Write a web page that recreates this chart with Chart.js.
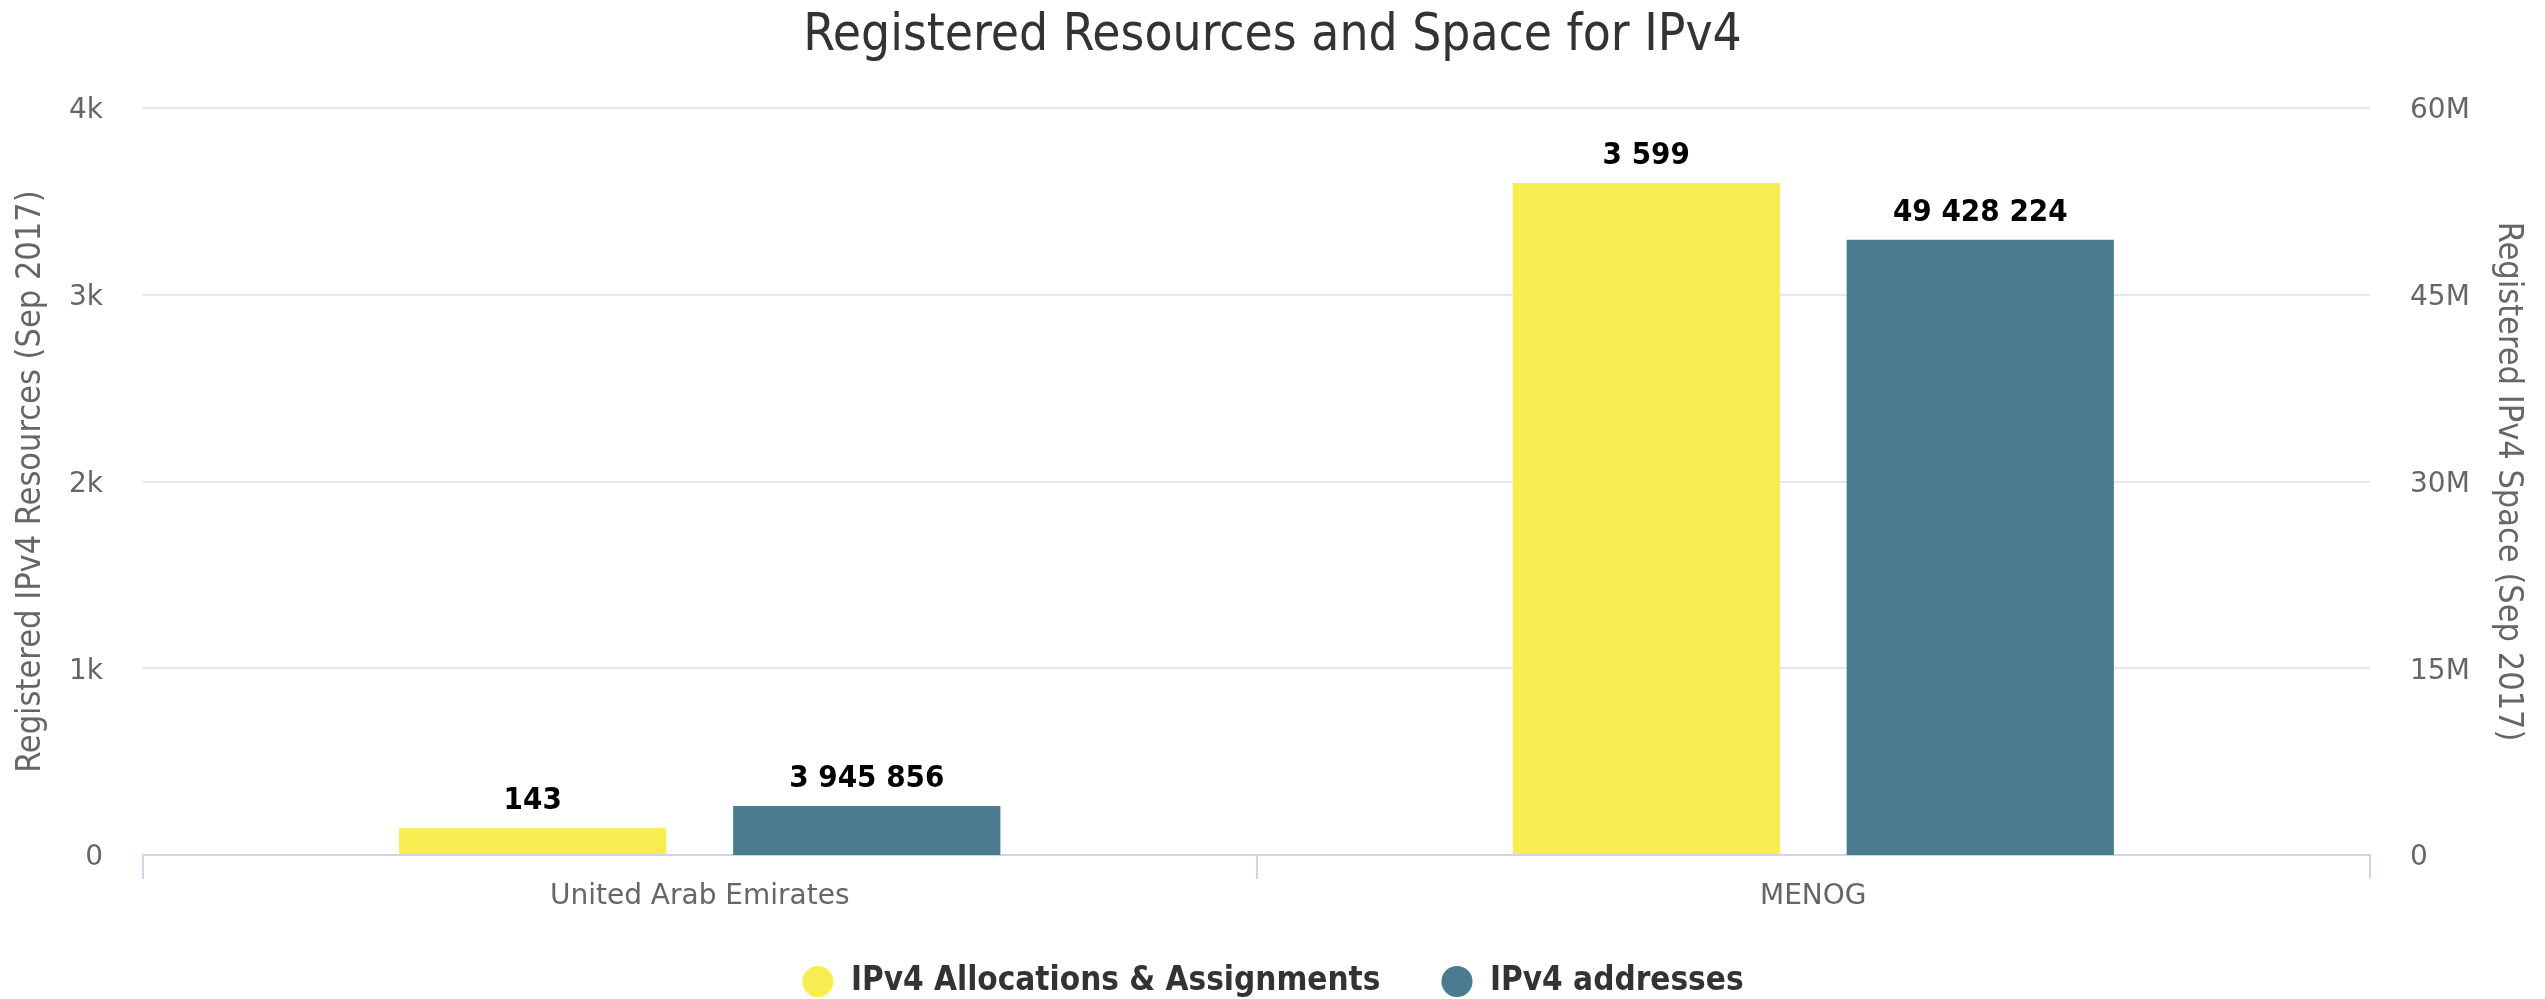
<!DOCTYPE html>
<html>
<head>
<meta charset="utf-8">
<title>Registered Resources and Space for IPv4</title>
<script src="https://cdn.jsdelivr.net/npm/chart.js@4"></script>
<style>
    body { margin: 0; background: #fff; }
    .chart-box { width: 2545px; height: 999px; }
</style>
</head>
<body>
<div class="chart-box"><canvas id="ipv4Chart"></canvas></div>
<script>
const categories = ["United Arab Emirates", "MENOG"];
const allocations = [143, 3599];
const addresses = [3945856, 49428224];
const leftTicks = [0, 1000, 2000, 3000, 4000];
const rightTicks = [0, 15000000, 30000000, 45000000, 60000000];

const narrow = "'DejaVu Sans Condensed', 'Liberation Sans Narrow', 'DejaVu Sans', sans-serif";
const wide = "'DejaVu Sans', sans-serif";

// numbers like 3 945 856
function spaced(v) {
    return String(v).replace(/\B(?=(\d{3})+(?!\d))/g, " ");
}

// labels above the bars
const barLabels = {
    id: "barLabels",
    afterDatasetsDraw(chart) {
        const ctx = chart.ctx;
        ctx.save();
        ctx.font = "bold 31px " + narrow;
        ctx.fillStyle = "#000";
        ctx.textAlign = "center";
        ctx.textBaseline = "middle";
        chart.data.datasets.forEach((ds, i) => {
            chart.getDatasetMeta(i).data.forEach((bar, j) => {
                ctx.fillText(spaced(ds.data[j]), bar.x, bar.y - 27);
            });
        });
        ctx.restore();
    }
};

document.addEventListener("DOMContentLoaded", function () {
    const ctx = document.getElementById("ipv4Chart").getContext("2d");
    Chart.defaults.font.family = narrow;
    Chart.defaults.color = "#666";

    new Chart(ctx, {
        type: "bar",
        data: {
            labels: categories,
            datasets: [{
                label: "IPv4 Allocations & Assignments",
                data: allocations,
                backgroundColor: "#f7ed51",
                borderWidth: 0,
                yAxisID: "y",
                categoryPercentage: 0.6,
                barPercentage: 0.8
            },
            {
                label: "IPv4 addresses",
                data: addresses,
                backgroundColor: "#4a7b8f",
                borderWidth: 0,
                yAxisID: "y1",
                categoryPercentage: 0.6,
                barPercentage: 0.8
            }]
        },
        options: {
            responsive: true,
            maintainAspectRatio: false,
            animation: false,
            layout: { padding: { top: 0, left: 0, right: 0, bottom: -9 } },
            plugins: {
                title: {
                    display: true,
                    text: "Registered Resources and Space for IPv4",
                    color: "#333",
                    font: { size: 51, weight: "normal", family: narrow },
                    padding: { top: 6, bottom: 41 }
                },
                legend: {
                    position: "bottom",
                    labels: {
                        usePointStyle: true,
                        pointStyle: "circle",
                        boxWidth: 33,
                        boxHeight: 22,
                        padding: 60,
                        color: "#333",
                        font: { size: 33, weight: "bold", family: narrow }
                    }
                },
                tooltip: { enabled: false }
            },
            scales: {
                x: {
                    grid: {
                        display: true,
                        drawOnChartArea: false,
                        tickLength: 24,
                        color: "#ccd6eb",
                        lineWidth: 2
                    },
                    border: { color: "#ccd6eb", width: 2 },
                    ticks: { padding: 1, font: { size: 28, family: wide } },
                    afterFit: function (scale) { scale.height = 50; }
                },
                y: {
                    position: "left",
                    min: 0,
                    max: 4000,
                    afterBuildTicks: function (scale) {
                        scale.ticks = leftTicks.map(v => ({ value: v }));
                    },
                    ticks: {
                        padding: 40,
                        labelOffset: 3,
                        font: { size: 28, family: wide },
                        callback: v => v === 0 ? "0" : (v / 1000) + "k"
                    },
                    grid: { color: "#e6e6e6", lineWidth: 2, drawTicks: false },
                    border: { display: false },
                    title: {
                        display: true,
                        text: "Registered IPv4 Resources (Sep 2017)",
                        color: "#666",
                        font: { size: 34, family: narrow },
                        padding: { top: 11 }
                    },
                    afterFit: function (scale) { scale.width = 143; }
                },
                y1: {
                    position: "right",
                    min: 0,
                    max: 60000000,
                    afterBuildTicks: function (scale) {
                        scale.ticks = rightTicks.map(v => ({ value: v }));
                    },
                    ticks: {
                        padding: 40,
                        labelOffset: 3,
                        font: { size: 28, family: wide },
                        callback: v => v === 0 ? "0" : (v / 1000000) + "M"
                    },
                    grid: { display: false, drawTicks: false },
                    border: { display: false },
                    title: {
                        display: true,
                        text: "Registered IPv4 Space (Sep 2017)",
                        color: "#666",
                        font: { size: 34, family: narrow },
                        padding: { top: 17 }
                    },
                    afterFit: function (scale) { scale.width = 175; }
                }
            }
        },
        plugins: [barLabels]
    });
});
</script>
</body>
</html>
